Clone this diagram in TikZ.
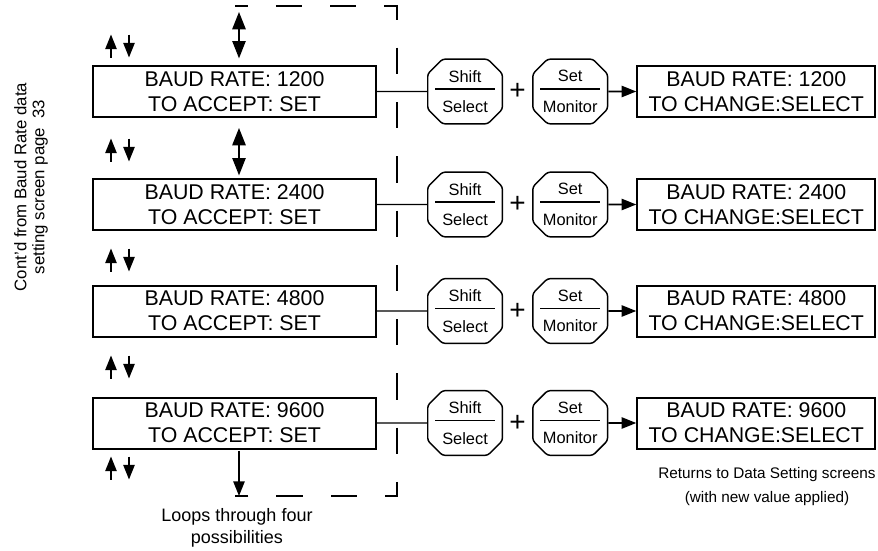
\documentclass[tikz,border=0pt]{standalone}
\usepackage{fontspec}
\setmainfont{Liberation Sans}
\usetikzlibrary{arrows.meta,positioning,shapes.misc}

\begin{document}
\begin{tikzpicture}[
  x=0.75pt, y=-0.75pt,
  node distance=21pt,
  tela/.style={draw, line width=1.5pt, minimum width=212.25pt, minimum height=38.25pt,
               inner sep=0pt, align=center, font=\fontsize{16}{18.75}\selectfont},
  telanova/.style={tela, minimum width=178.5pt},
  tecla/.style={draw, line width=1.1pt, chamfered rectangle, chamfered rectangle xsep=5.5pt,
                chamfered rectangle ysep=5.5pt, rounded corners=2pt, minimum width=56pt,
                minimum height=48.5pt, inner sep=0pt, align=center,
                font=\fontsize{12.3}{23}\selectfont},
  mais/.style={inner sep=0pt, font=\fontsize{21}{21}\selectfont},
  nota/.style={align=center},
  linha/.style={line width=1.1pt},
  seta/.style={-{Triangle[length=11pt, width=8.5pt]}, line width=1.2pt},
  setadupla/.style={{Triangle[length=13pt, width=10pt]}-{Triangle[length=13pt, width=10pt]}, line width=1.2pt},
  tracejado/.style={line width=1.3pt, dash pattern=on 19.7pt off 21pt, dash phase=10pt}
]
\useasboundingbox (0,0) rectangle (878,550);

% telas de velocidade
\node[tela] (b1) at (234.5,91.5) {BAUD RATE: 1200\\TO ACCEPT: SET};
\node[tela] (b2) at (234.5,204.5) {BAUD RATE: 2400\\TO ACCEPT: SET};
\node[tela] (b3) at (234.5,311) {BAUD RATE: 4800\\TO ACCEPT: SET};
\node[tela] (b4) at (234.5,423) {BAUD RATE: 9600\\TO ACCEPT: SET};

% teclas e telas de mudanca
\node[tecla, right=37.5pt of b1] (s1) {Shift\\Select};
\node[tecla, right=21.75pt of s1] (m1) {Set\\Monitor};
\node[telanova, right=of m1] (c1) {BAUD RATE: 1200\\TO CHANGE:SELECT};
\node[tecla, right=37.5pt of b2] (s2) {Shift\\Select};
\node[tecla, right=21.75pt of s2] (m2) {Set\\Monitor};
\node[telanova, right=of m2] (c2) {BAUD RATE: 2400\\TO CHANGE:SELECT};
\node[tecla, right=37.5pt of b3] (s3) {Shift\\Select};
\node[tecla, right=21.75pt of s3] (m3) {Set\\Monitor};
\node[telanova, right=of m3] (c3) {BAUD RATE: 4800\\TO CHANGE:SELECT};
\node[tecla, right=37.5pt of b4] (s4) {Shift\\Select};
\node[tecla, right=21.75pt of s4] (m4) {Set\\Monitor};
\node[telanova, right=of m4] (c4) {BAUD RATE: 9600\\TO CHANGE:SELECT};

\foreach \i in {1,...,4} {
  \path (s\i) -- (m\i) node[mais, midway] (p\i) {+};
  \draw[linha] ([xshift=6pt, yshift=2pt]s\i.west) -- ([xshift=-6pt, yshift=2pt]s\i.east);
  \draw[linha] ([xshift=6pt, yshift=2pt]m\i.west) -- ([xshift=-6pt, yshift=2pt]m\i.east);
  \draw[linha] (b\i) -- (s\i);
  \draw[seta] (m\i) -- (c\i);
}

% laco tracejado
\coordinate (topo) at (239,6);
\coordinate (base) at (239,496);
\draw[tracejado] (235,6) -- (397,6) -- (397,496) -- (235,496);
\draw[setadupla, shorten <=4.5pt, shorten >=5pt] (topo) -- (b1.north -| topo);
\draw[setadupla, shorten <=7.5pt, shorten >=2pt] (b1.south -| topo) -- (b2.north -| topo);
\draw[seta, shorten <=1pt] (b4.south -| base) -- (base);

% setas para cima e para baixo
\foreach \y in {46,150,260,367,468} {
  \draw[seta] (111,\y+11.5) -- (111,\y-11.5);
  \draw[seta] (129,\y-11.5) -- (129,\y+11.5);
}

% notas
\node[nota, rotate=90, font=\fontsize{12.6}{13.5}\selectfont] (orig) at (31,187)
  {Cont'd from Baud Rate data\\setting screen page\ \ 33};
\node[nota, font=\fontsize{13.5}{17}\selectfont] (laco) at (237,528) {Loops through four\\possibilities};
\node[nota, font=\fontsize{11.5}{18}\selectfont] (volta) at (767,487) {Returns to Data Setting screens\\(with new value applied)};
\end{tikzpicture}
\end{document}
